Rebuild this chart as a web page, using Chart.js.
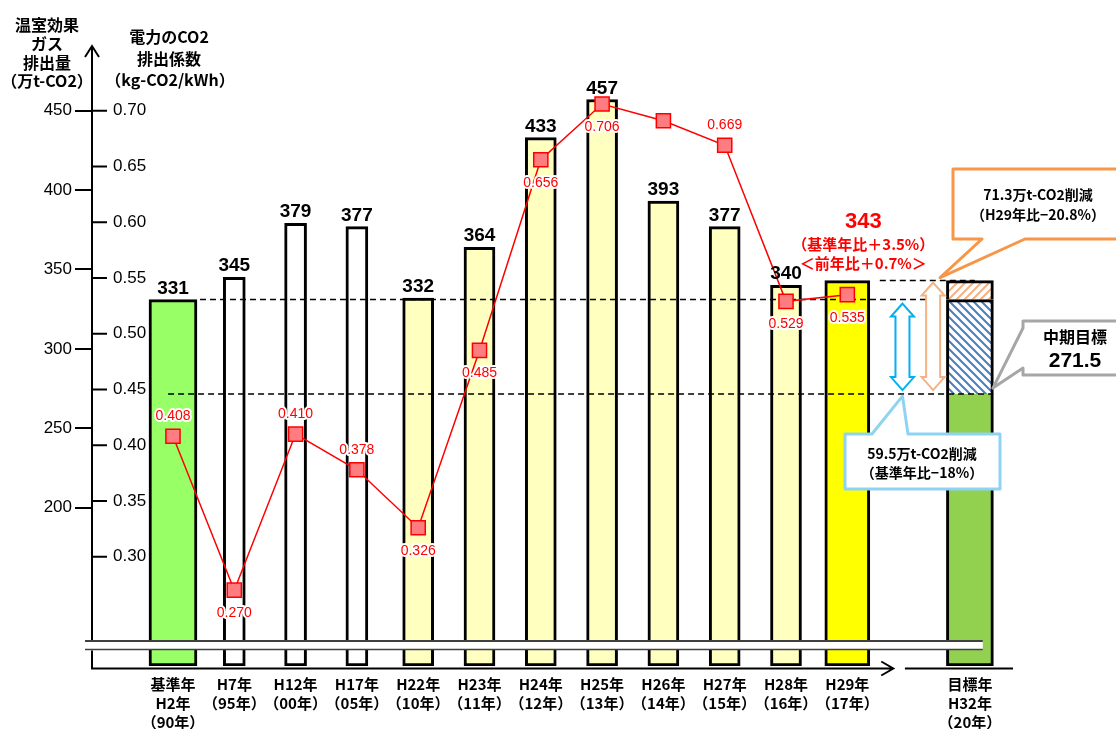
<!DOCTYPE html>
<html>
<head>
  <meta charset="utf-8">
  <title>温室効果ガス排出量と電力のCO2排出係数</title>
  <script src="https://cdn.jsdelivr.net/npm/chart.js"></script>
  <style>
    body { margin: 0; background: #fff; }
    #wrap { width: 1116px; height: 729px; }
  </style>
</head>
<body>
  <div id="wrap"><canvas id="chart"></canvas></div>

  <script>

// x categories (index 12 is an empty gap before the target year)
const categories = [
  ['基準年', 'H2年', '（90年）'],
  ['H7年', '（95年）'],
  ['H12年', '（00年）'],
  ['H17年', '（05年）'],
  ['H22年', '（10年）'],
  ['H23年', '（11年）'],
  ['H24年', '（12年）'],
  ['H25年', '（13年）'],
  ['H26年', '（14年）'],
  ['H27年', '（15年）'],
  ['H28年', '（16年）'],
  ['H29年', '（17年）'],
  null,
  ['目標年', 'H32年', '（20年）']
];
const emissions = [331, 345, 379, 377, 332, 364, 433, 457, 393, 377, 340, 343];
const coefficients = [0.408, 0.270, 0.410, 0.378, 0.326, 0.485, 0.656, 0.706, 0.691, 0.669, 0.529, 0.535];
const coefLabelShown = [true, true, true, true, true, true, true, true, false, true, true, true];
const targetValue = 271.5;
const targetIndex = 13;
const emissionTicks = [200, 250, 300, 350, 400, 450];
const coefTicks = [0.30, 0.35, 0.40, 0.45, 0.50, 0.55, 0.60, 0.65, 0.70];
const latestNotes = ['（基準年比＋3.5%）', '＜前年比＋0.7%＞'];
const cutFromLatest = ['71.3万t-CO2削減', '（H29年比−20.8%）'];
const cutFromBase = ['59.5万t-CO2削減', '（基準年比−18%）'];
const targetNote = ['中期目標', '271.5'];

// styling
const labelPos = ['up', 'down', 'up', 'up', 'down', 'down', 'down', 'down', 'down', 'up', 'down', 'down'];
const barStyles = [
  { idx: [0], color: '#99FF66', width: 48 },
  { idx: [1, 2, 3], color: '#FFFFFF', width: 22 },
  { idx: [4, 5, 6, 7, 8, 9, 10], color: '#FFFFC0', width: 31 },
  { idx: [11], color: '#FFFF00', width: 45 }
];
const Y_MIN = 100.3, Y_MAX = 490.7;
const Y1_MIN = 0.202, Y1_MAX = 0.758;
const X_MIN = -1.321, X_MAX = 13.703;
const JP = '"Noto Sans CJK JP", sans-serif';
const NUM = '"Liberation Sans", Arial, sans-serif';

const ctx = document.getElementById('chart').getContext('2d');

function hatch(color, back) {
  const c = document.createElement('canvas');
  c.width = 8; c.height = 8;
  const g = c.getContext('2d');
  g.fillStyle = '#fff';
  g.fillRect(0, 0, 8, 8);
  g.strokeStyle = color;
  g.lineWidth = 2;
  g.beginPath();
  if (back) {
    g.moveTo(-2, -2); g.lineTo(10, 10);
    g.moveTo(-2, 6); g.lineTo(2, 10);
    g.moveTo(6, -2); g.lineTo(10, 2);
  } else {
    g.moveTo(-2, 10); g.lineTo(10, -2);
    g.moveTo(-2, 2); g.lineTo(2, -2);
    g.moveTo(6, 10); g.lineTo(10, 6);
  }
  g.stroke();
  return ctx.createPattern(c, 'repeat');
}

const barSets = barStyles.map(s => ({
  type: 'bar',
  data: s.idx.map(i => ({ x: i, y: emissions[i] })),
  backgroundColor: s.color,
  borderColor: '#000',
  borderWidth: 3,
  borderSkipped: false,
  barThickness: s.width,
  base: Y_MIN,
  grouped: false,
  yAxisID: 'y',
  order: 1
}));

const targetSets = [
  { y: [Y_MIN, targetValue], color: '#92D050', skip: 'top' },
  { y: [targetValue, emissions[0]], color: hatch('#4A7EBB', true), skip: 'bottom' },
  { y: [emissions[0], emissions[11]], color: hatch('#F4B183', false), skip: 'bottom' }
].map(p => ({
  type: 'bar',
  data: [{ x: targetIndex, y: p.y }],
  backgroundColor: p.color,
  borderColor: '#000',
  borderWidth: 3,
  borderSkipped: p.skip,
  barThickness: 47,
  grouped: false,
  yAxisID: 'y',
  order: 1
}));

const lineSet = {
  type: 'line',
  data: coefficients.map((v, i) => ({ x: i, y: v })),
  yAxisID: 'y1',
  borderColor: '#FF0000',
  borderWidth: 1.5,
  pointStyle: 'rect',
  pointRadius: 10,
  pointBackgroundColor: '#FF7C80',
  pointBorderColor: '#FF0000',
  pointBorderWidth: 1.5,
  tension: 0,
  order: 0
};

function dashed(c, x1, x2, y) {
  c.save();
  c.setLineDash([6, 4]);
  c.strokeStyle = '#000';
  c.lineWidth = 1.5;
  c.beginPath();
  c.moveTo(x1, y); c.lineTo(x2, y);
  c.stroke();
  c.restore();
}

function dblArrow(c, x, y1, y2, color) {
  const sw = 7, hw = 11.5, hl = 13;
  c.save();
  c.beginPath();
  c.moveTo(x, y1);
  c.lineTo(x + hw, y1 + hl); c.lineTo(x + sw, y1 + hl);
  c.lineTo(x + sw, y2 - hl); c.lineTo(x + hw, y2 - hl);
  c.lineTo(x, y2);
  c.lineTo(x - hw, y2 - hl); c.lineTo(x - sw, y2 - hl);
  c.lineTo(x - sw, y1 + hl); c.lineTo(x - hw, y1 + hl);
  c.closePath();
  c.fillStyle = '#fff';
  c.fill();
  c.strokeStyle = color;
  c.lineWidth = 2;
  c.stroke();
  c.restore();
}

function callout(c, pts, color) {
  c.save();
  c.beginPath();
  pts.forEach((p, i) => i ? c.lineTo(p[0], p[1]) : c.moveTo(p[0], p[1]));
  c.closePath();
  c.fillStyle = '#fff';
  c.fill();
  c.lineWidth = 3;
  c.strokeStyle = color;
  c.stroke();
  c.restore();
}

function text(c, t, x, y, font, color, align) {
  c.font = font;
  c.fillStyle = color || '#000';
  c.textAlign = align || 'center';
  c.textBaseline = 'middle';
  c.fillText(t, x, y);
}

const decorations = {
  id: 'decorations',
  beforeDatasetDraw(chart, args) {
    if (args.meta.type !== 'line') return;
    const c = chart.ctx, xs = chart.scales.x, ys = chart.scales.y;
    const px = v => xs.getPixelForValue(v);
    c.save();
    dashed(c, px(0.44), px(12.43), ys.getPixelForValue(emissions[0]));
    dashed(c, px(11.53), px(13.08), ys.getPixelForValue(emissions[11]));
    dashed(c, px(-0.08), px(13.38), ys.getPixelForValue(targetValue));
    c.restore();
  },
  afterDatasetsDraw(chart) {
    const c = chart.ctx, a = chart.chartArea;
    const xs = chart.scales.x, ys = chart.scales.y, y1 = chart.scales.y1;
    const px = v => xs.getPixelForValue(v);
    const axX = a.left;
    const brkTop = 641, brkBot = 649.5, axY = a.bottom + 2.5;
    c.save();

    // axis break
    c.fillStyle = '#fff';
    c.fillRect(axX - 8, brkTop, px(13.21) - axX + 8, brkBot - brkTop);
    c.strokeStyle = '#404040';
    c.lineWidth = 2;
    c.beginPath(); c.moveTo(axX - 7, brkTop); c.lineTo(px(13.21), brkTop); c.stroke();
    c.lineWidth = 1.5;
    c.beginPath(); c.moveTo(axX - 7, brkBot); c.lineTo(px(13.21), brkBot); c.stroke();

    // axes
    c.strokeStyle = '#000';
    c.lineWidth = 2;
    c.beginPath();
    c.moveTo(axX, a.top); c.lineTo(axX, brkTop - 1);
    c.moveTo(axX, brkBot + 1); c.lineTo(axX, axY);
    c.lineTo(px(11.75), axY);
    c.moveTo(px(11.94), axY); c.lineTo(a.right, axY);
    c.moveTo(axX - 7, a.top + 11); c.lineTo(axX, a.top); c.lineTo(axX + 7, a.top + 11);
    c.moveTo(px(11.75) - 12, axY - 7); c.lineTo(px(11.75), axY); c.lineTo(px(11.75) - 12, axY + 7);
    coefTicks.forEach(v => {
      const y = y1.getPixelForValue(v);
      c.moveTo(axX, y); c.lineTo(axX + 15, y);
    });
    c.stroke();

    // reduction arrows
    const yBase = ys.getPixelForValue(emissions[0]);
    const yLast = ys.getPixelForValue(emissions[11]);
    const yTarget = ys.getPixelForValue(targetValue);
    dblArrow(c, px(11.9), yBase + 4, yTarget - 4, '#00B0F0');
    dblArrow(c, px(12.4), yLast + 2, yTarget - 4, '#F4B183');

    // bar values
    emissions.forEach((v, i) => {
      const x = px(i), y = ys.getPixelForValue(v);
      if (i === 11) {
        text(c, String(v), x + 16, y - 59, 'bold 22px ' + NUM, '#FF0000');
        text(c, latestNotes[0], x + 16, y - 36, 'bold 15px ' + JP, '#FF0000');
        text(c, latestNotes[1], x + 16, y - 17, 'bold 15px ' + JP, '#FF0000');
      } else {
        c.font = 'bold 19px ' + NUM;
        c.fillStyle = '#000';
        c.textAlign = 'center';
        c.textBaseline = 'alphabetic';
        c.fillText(String(v), x, y - 6);
      }
    });

    // coefficient labels
    c.font = '14px ' + NUM;
    c.textAlign = 'center';
    c.textBaseline = 'middle';
    c.lineJoin = 'round';
    coefficients.forEach((v, i) => {
      if (!coefLabelShown[i]) return;
      const x = px(i), y = y1.getPixelForValue(v) + (labelPos[i] === 'up' ? -20 : 23);
      const t = v.toFixed(3);
      c.lineWidth = 4;
      c.strokeStyle = '#fff';
      c.strokeText(t, x, y);
      c.fillStyle = '#FF0000';
      c.fillText(t, x, y);
    });

    // callouts
    const tipO = [px(12.4) + 7, yLast - 3];
    callout(c, [[953, 169], [1125, 169], [1125, 239], [1025, 239], tipO, [982, 239], [953, 239]], '#F79646');
    text(c, cutFromLatest[0], 1038, 195, 'bold 14px ' + JP);
    text(c, cutFromLatest[1], 1038, 215, 'bold 14px ' + JP);

    const tipG = [px(targetIndex) + 23, yTarget - 6];
    callout(c, [[1023, 321], [1125, 321], [1125, 375], [1023, 375], [1023, 368], tipG, [1023, 328]], '#A6A6A6');
    text(c, targetNote[0], 1075, 337, 'bold 16px ' + JP);
    text(c, targetNote[1], 1075, 361, 'bold 21px ' + NUM);

    const tipB = [px(11.9), yTarget + 2];
    callout(c, [[845, 434], [872, 434], tipB, [908, 434], [1000, 434], [1000, 489], [845, 489]], '#8FD3F3');
    text(c, cutFromBase[0], 922, 454, 'bold 14px ' + JP);
    text(c, cutFromBase[1], 922, 473, 'bold 14px ' + JP);

    // axis titles
    const tf = 'bold 16px ' + JP;
    text(c, '温室効果', 47, 25, tf);
    text(c, 'ガス', 47, 44, tf);
    text(c, '排出量', 47, 63, tf);
    text(c, '（万t-CO2）', 47, 81, tf);
    text(c, '電力のCO2', 169, 37, tf);
    text(c, '排出係数', 169, 59, tf);
    text(c, '（kg-CO2/kWh）', 170, 80, tf);
    c.restore();
  }
};

new Chart(ctx, {
  type: 'bar',
  data: { datasets: [...barSets, ...targetSets, lineSet] },
  plugins: [decorations],
  options: {
    responsive: true,
    maintainAspectRatio: false,
    animation: false,
    layout: { padding: { top: 46, right: 103, bottom: 0, left: 0 } },
    plugins: { legend: { display: false }, tooltip: { enabled: false } },
    scales: {
      x: {
        type: 'linear',
        offset: false,
        min: X_MIN,
        max: X_MAX,
        afterBuildTicks: s => { s.ticks = categories.map((c, i) => c ? { value: i } : null).filter(t => t); },
        afterFit: s => { s.height = 63; },
        grid: { display: false, drawTicks: false, offset: false },
        border: { display: false },
        ticks: {
          autoSkip: false,
          maxRotation: 0,
          padding: 9,
          color: '#000',
          font: { family: JP, size: 15, weight: 'bold', lineHeight: 1.27 },
          callback: v => categories[v] || ''
        }
      },
      y: {
        position: 'left',
        weight: 1,
        min: Y_MIN,
        max: Y_MAX,
        afterBuildTicks: s => { s.ticks = emissionTicks.map(v => ({ value: v })); },
        afterFit: s => { s.width = 92; },
        grid: { display: true, drawOnChartArea: false, drawTicks: true, tickLength: 17, color: '#000', lineWidth: 2 },
        border: { display: false },
        ticks: { color: '#000', padding: 3, font: { family: NUM, size: 17 }, callback: v => String(v) }
      },
      y1: {
        position: 'left',
        weight: 0,
        min: Y1_MIN,
        max: Y1_MAX,
        afterBuildTicks: s => { s.ticks = coefTicks.map(v => ({ value: v })); },
        afterFit: s => { s.width = 0; },
        grid: { display: false },
        border: { display: false },
        ticks: { mirror: true, color: '#000', padding: 21, font: { family: NUM, size: 17 }, callback: v => v.toFixed(2) }
      }
    }
  }
});
  </script>
</body>
</html>
